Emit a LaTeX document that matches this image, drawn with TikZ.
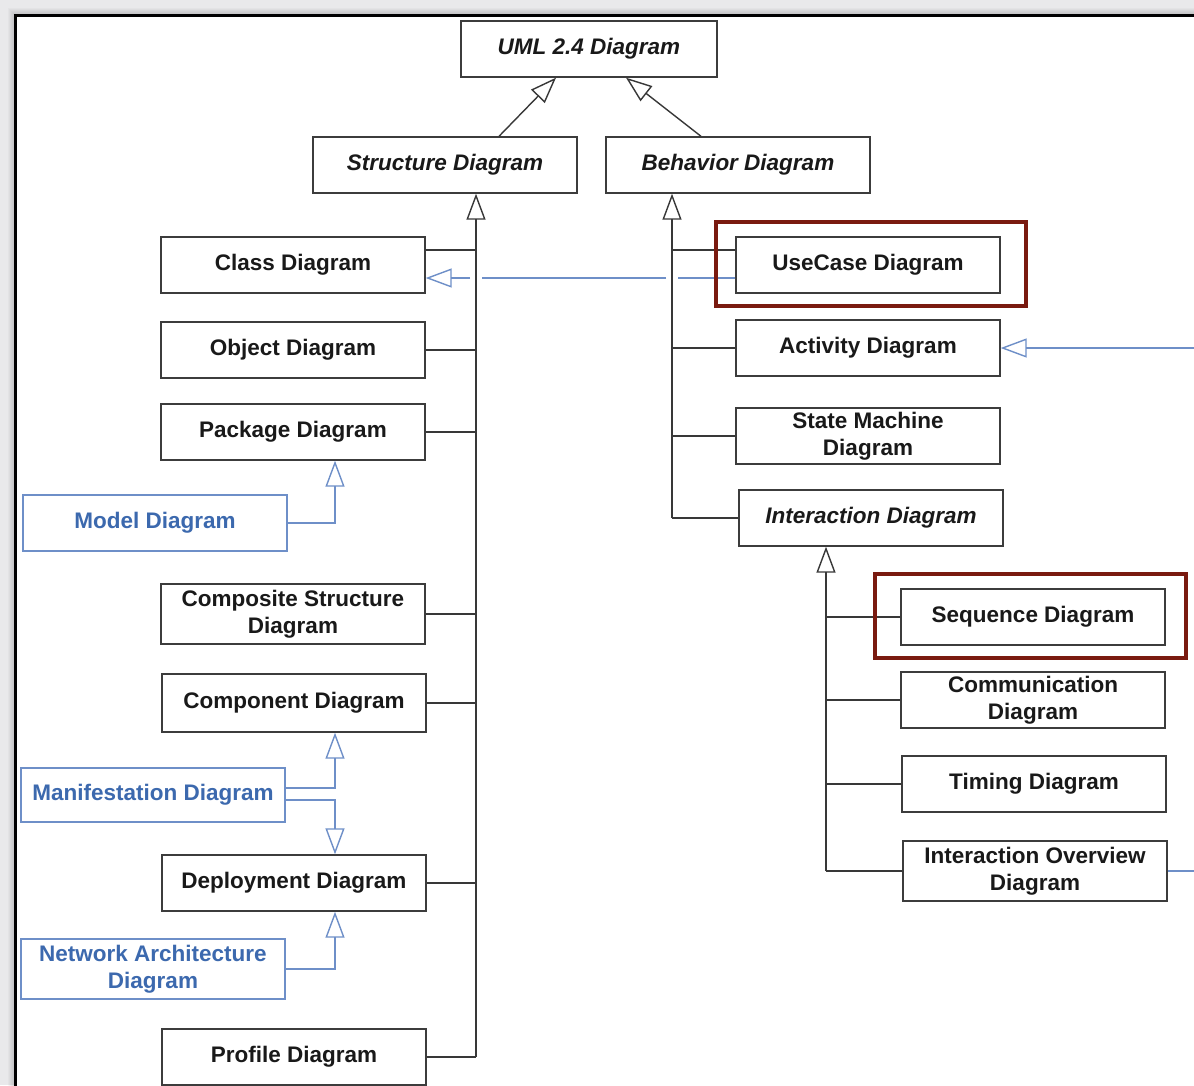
\documentclass[tikz,border=0pt]{standalone}
\usepackage{fontspec}
\setmainfont{Liberation Sans}
\usetikzlibrary{arrows.meta,calc}
\definecolor{boxline}{HTML}{3C3C3C}
\definecolor{bluetext}{HTML}{3C69AE}
\definecolor{blueline}{HTML}{6E8FC8}
\definecolor{hilite}{HTML}{7A1A10}
\definecolor{backdrop}{HTML}{E9E9EB}

\begin{document}
\begin{tikzpicture}[x=1pt,y=-1pt,
  diag/.style={draw=boxline, line width=1.4pt, fill=white, inner sep=0pt,
    minimum width=264pt, minimum height=56pt, align=center,
    font=\fontsize{22.5}{27}\selectfont\bfseries, text=black!90},
  abstract/.style={diag, font=\fontsize{22.5}{27}\selectfont\bfseries\itshape},
  ext/.style={diag, draw=blueline, text=bluetext},
  link/.style={draw=black!78, line width=1.4pt},
  gen/.style={link, -{Triangle[open, length=26pt, width=19pt]}},
  blink/.style={draw=blueline, line width=1.4pt},
  bgen/.style={blink, -{Triangle[open, length=26pt, width=19pt]}},
  hl/.style={draw=hilite, line width=4pt}
]
% page and window frame
\fill[backdrop] (0,0) rectangle (1194,1085);
\useasboundingbox (0,0) rectangle (1194,1085);
\clip (0,0) rectangle (1194,1085);
\foreach \i in {1,...,7}
  \fill[black, opacity=0.025] (15-\i,15-\i) rectangle (1200,1100);
\fill[white] (15,15) rectangle (1200,1100);
\draw[black, line width=3pt] (15,1100) -- (15,15) -- (1200,15);

% root and abstract categories
\node[abstract, minimum width=256pt] (uml) at (589,49) {UML 2.4 Diagram};
\node[abstract] (struct) at (445,165) {Structure Diagram};
\node[abstract] (behav) at (738,165) {Behavior Diagram};

% structure diagrams
\node[diag] (class) at (293,265) {Class Diagram};
\node[diag] (object) at (293,350) {Object Diagram};
\node[diag] (package) at (293,432) {Package Diagram};
\node[ext] (model) at (155,523) {Model Diagram};
\node[diag, minimum height=60pt] (composite) at (293,614) {Composite Structure\\Diagram};
\node[diag, minimum height=58pt] (component) at (294,703) {Component Diagram};
\node[ext, minimum height=54pt] (manifest) at (153,795) {Manifestation Diagram};
\node[diag] (deploy) at (294,883) {Deployment Diagram};
\node[ext, minimum height=60pt] (network) at (153,969) {Network Architecture\\Diagram};
\node[diag] (profile) at (294,1057) {Profile Diagram};

% behavior diagrams
\node[diag] (usecase) at (868,265) {UseCase Diagram};
\node[diag] (activity) at (868,348) {Activity Diagram};
\node[diag] (state) at (868,436) {State Machine\\Diagram};
\node[abstract] (interact) at (871,518) {Interaction Diagram};

% interaction diagrams
\node[diag] (sequence) at (1033,617) {Sequence Diagram};
\node[diag] (comm) at (1033,700) {Communication\\Diagram};
\node[diag] (timing) at (1034,784) {Timing Diagram};
\node[diag, minimum height=60pt] (overview) at (1035,871) {Interaction Overview\\Diagram};

% generalisations to the root
\draw[gen] ([xshift=54pt]struct.north) -- ([xshift=-33pt]uml.south);
\draw[gen] ([xshift=-37pt]behav.north) -- ([xshift=37pt]uml.south);

% structure trunk
\coordinate (sroot) at ([xshift=31pt]struct.south);
\draw[gen] (profile.east -| sroot) -- (sroot);
\coordinate (clsb) at ([yshift=15pt]class.east);
\draw[link] (clsb) -- (clsb -| sroot);
\foreach \n in {object,package,composite,component,deploy,profile}
  \draw[link] (\n.east) -- (\n.east -| sroot);

% behavior trunk
\coordinate (broot) at ([xshift=-66pt]behav.south);
\draw[gen] (interact.west -| broot) -- (broot);
\coordinate (ucb) at ([yshift=15pt]usecase.west);
\draw[link] (ucb) -- (ucb -| broot);
\foreach \n in {activity,state,interact}
  \draw[link] (\n.west) -- (\n.west -| broot);

% interaction trunk
\coordinate (iroot) at ([xshift=-45pt]interact.south);
\draw[gen] (overview.west -| iroot) -- (iroot);
\foreach \n in {sequence,comm,timing,overview}
  \draw[link] (\n.west) -- (\n.west -| iroot);

% extension diagrams
\draw[bgen] (model.east) -| ([xshift=42pt]package.south);
\draw[bgen] ([yshift=7pt]manifest.east) -| ([xshift=41pt]component.south);
\draw[bgen] ([yshift=-5pt]manifest.east) -| ([xshift=41pt]deploy.north);
\draw[bgen] (network.east) -| ([xshift=41pt]deploy.south);

% use case to class, hopping over both trunks
\coordinate (uc) at ([yshift=-13pt]usecase.west);
\coordinate (g1) at (uc -| broot);
\coordinate (g2) at (uc -| sroot);
\coordinate (cl) at ([yshift=-13pt]class.east);
\draw[blink] (uc) -- ([xshift=6pt]g1);
\draw[blink] ([xshift=-6pt]g1) -- ([xshift=6pt]g2);
\draw[bgen] ([xshift=-6pt]g2) -- (cl);

% links leaving the frame
\coordinate (aext) at (1200,348);
\draw[bgen] (aext) -- (activity.east);
\coordinate (oext) at (1200,871);
\draw[blink] (overview.east) -- (oext);

% highlights
\draw[hl] ([shift={(-19pt,14pt)}]usecase.north west) rectangle ([shift={(25pt,-12pt)}]usecase.south east);
\draw[hl] ([shift={(-25pt,14pt)}]sequence.north west) rectangle ([shift={(20pt,-12pt)}]sequence.south east);
\end{tikzpicture}
\end{document}
